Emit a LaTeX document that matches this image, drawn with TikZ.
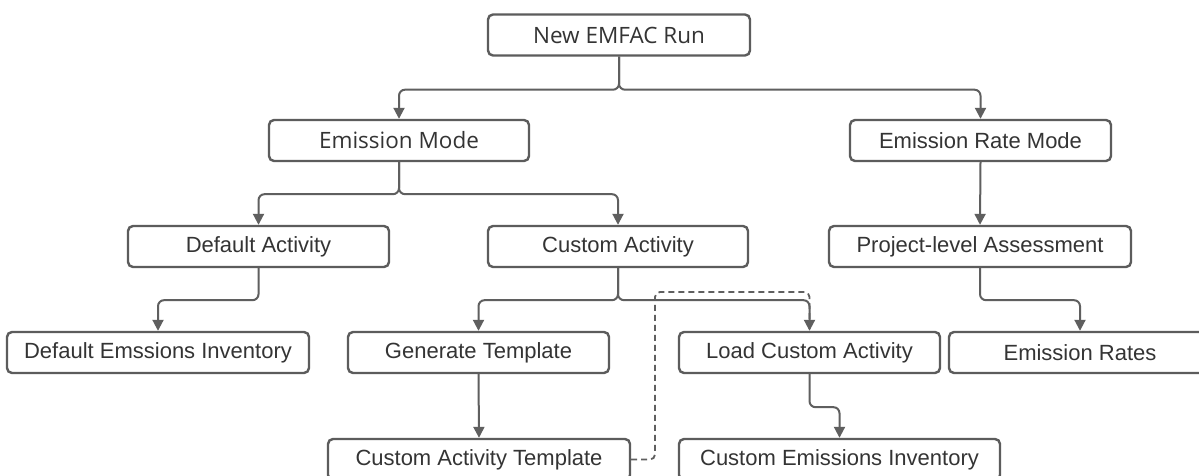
\documentclass[tikz,border=0pt]{standalone}
\usepackage{fontspec}
\setmainfont{Liberation Sans}
\newfontfamily\osans{Open Sans}
\usetikzlibrary{arrows.meta}
\definecolor{boxline}{RGB}{92,92,92}
\definecolor{txt}{RGB}{52,52,52}
\definecolor{conn}{RGB}{95,95,95}
\tikzset{
  box/.style={draw=boxline, line width=2.4bp, rounded corners=5bp, fill=white,
    minimum height=41bp, inner sep=0pt, text=txt,
    font=\fontsize{22bp}{26bp}\selectfont},
  obox/.style={box, font=\osans\fontsize{22.5bp}{26bp}\selectfont},
  conn/.style={draw=conn, line width=2bp, rounded corners=6bp,
    -{Triangle[length=11bp,width=11bp]}},
  dconn/.style={draw=conn, line width=1.8bp, rounded corners=5bp,
    dash pattern=on 6bp off 4bp}
}
\begin{document}
\begin{tikzpicture}[x=1bp,y=-1bp]
\useasboundingbox (0,0) rectangle (1199,476);
\fill[white] (0,0) rectangle (1199,476);
\clip (0,0) rectangle (1199,476);

\node[obox, minimum width=262bp] (run) at (619,35) {New EMFAC Run};
\node[obox, minimum width=260bp] (em) at (399,140.5) {Emission Mode};
\node[box, minimum width=261bp] (erm) at (980.5,140.5) {Emission Rate Mode};
\node[box, minimum width=261bp] (da) at (258.5,246.5) {Default Activity};
\node[box, minimum width=260bp] (ca) at (618,246.5) {Custom Activity};
\node[box, minimum width=302bp] (pla) at (980,246.5) {Project-level Assessment};
\node[box, minimum width=302bp] (dei) at (158,352.5) {Default Emssions Inventory};
\node[box, minimum width=261bp] (gt) at (478.5,352.5) {Generate Template};
\node[box, minimum width=261bp] (lca) at (809.5,352.5) {Load Custom Activity};
\node[box, minimum width=262bp] (rates) at (1080,352.5) {Emission Rates};
\node[box, minimum width=302bp] (cat) at (479,459.5) {Custom Activity Template};
\node[box, minimum width=321bp] (cei) at (839.5,459.5) {Custom Emissions Inventory};

\coordinate (dj) at (655,292);

\draw[dconn] (cat.east) -| (dj) -| (lca.north);

\draw[conn] (run.south) -- ++(0,33) -| (em.north);
\draw[conn] (run.south) -- ++(0,33) -| (erm.north);
\draw[conn] (em.south) -- ++(0,32) -| (da.north);
\draw[conn] (em.south) -- ++(0,32) -| (ca.north);
\draw[conn] (erm.south) -- (pla.north);
\draw[conn] (da.south) -- ++(0,32) -| (dei.north);
\draw[conn] (ca.south) -- ++(0,32) -| (gt.north);
\draw[conn] (ca.south) -- ++(0,32) -| (lca.north);
\draw[conn] (pla.south) -- ++(0,32) -| (rates.north);
\draw[conn] (gt.south) -- (cat.north);
\draw[conn] (lca.south) -- ++(0,33) -| (cei.north);
\end{tikzpicture}
\end{document}
